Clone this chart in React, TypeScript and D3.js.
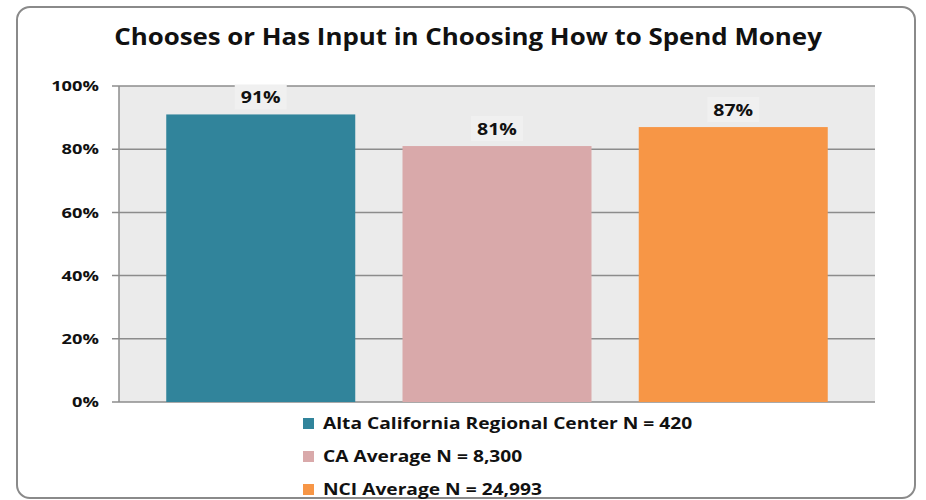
import React from "react";
import * as d3 from "d3";

// chart data
const categories = ["Alta California Regional Center", "CA Average", "NCI Average"];
const sampleSizes = ["420", "8,300", "24,993"];
const values = [91, 81, 87];
const colors = ["#31849b", "#d9a9aa", "#f79646"];
const yTicks = [0, 20, 40, 60, 80, 100];
const title = "Chooses or Has Input in Choosing How to Spend Money";

const W = 926;
const H = 500;
const plot = { left: 119, right: 875, top: 86, bottom: 402 };
const font = "'Open Sans', 'Segoe UI', sans-serif";

// the original uses a wide font, so stretch Open Sans sideways a little
const stretch = (x: number, y: number, k: number) => `translate(${x},${y}) scale(${k},1)`;

const App = () => {
  const x = d3
    .scaleBand<string>()
    .domain(categories)
    .range([plot.left, plot.right])
    .paddingInner(0.2)
    .paddingOuter(0.2);

  const y = d3.scaleLinear().domain([0, 100]).range([plot.bottom, plot.top]);

  return (
    <svg
      width={W}
      height={H}
      style={{ position: "absolute", left: 0, top: 0, background: "#fff" }}
      fontFamily={font}
    >
      {/* outer frame */}
      <rect x={17} y={7} width={898} height={491} rx={13} fill="#fff" stroke="#8a8a8a" strokeWidth={2} />

      <text
        transform={stretch(468, 45, 1.15)}
        textAnchor="middle"
        fontSize={22.5}
        fontWeight="bold"
        fill="#111"
      >
        {title}
      </text>

      {/* plot background */}
      <rect
        x={plot.left}
        y={plot.top}
        width={plot.right - plot.left}
        height={plot.bottom - plot.top}
        fill="#ebebeb"
      />

      {/* gridlines + ticks */}
      {yTicks.map((t) => (
        <g key={t}>
          <line x1={plot.left - 7} x2={plot.right} y1={y(t)} y2={y(t)} stroke="#8c8c8c" strokeWidth={1.5} />
          <text
            transform={stretch(99, y(t), 1.22)}
            dy="0.35em"
            textAnchor="end"
            fontSize={15}
            fontWeight="bold"
            fill="#111"
          >
            {t}%
          </text>
        </g>
      ))}
      <line x1={plot.left} x2={plot.left} y1={plot.top} y2={plot.bottom} stroke="#8c8c8c" strokeWidth={1.5} />

      {/* bars */}
      {categories.map((c, i) => (
        <rect
          key={c}
          x={x(c)}
          y={y(values[i])}
          width={x.bandwidth()}
          height={y(0) - y(values[i])}
          fill={colors[i]}
        />
      ))}

      {/* value labels */}
      {categories.map((c, i) => {
        const cx = (x(c) as number) + x.bandwidth() / 2;
        const ty = y(values[i]) - 11;
        return (
          <g key={c + "-lbl"}>
            <rect x={cx - 26} y={ty - 19} width={52} height={25} fill="#f0f0f0" />
            <text
              transform={stretch(cx, ty, 1.22)}
              textAnchor="middle"
              fontSize={16}
              fontWeight="bold"
              fill="#111"
            >
              {values[i]}%
            </text>
          </g>
        );
      })}

      {/* legend */}
      {categories.map((c, i) => {
        const ly = 423 + i * 33;
        return (
          <g key={c + "-leg"}>
            <rect x={303} y={ly - 5} width={11} height={11} fill={colors[i]} />
            <text
              transform={stretch(323, ly, 1.2)}
              dy="0.36em"
              fontSize={16}
              fontWeight="bold"
              fill="#111"
            >
              {c} N = {sampleSizes[i]}
            </text>
          </g>
        );
      })}
    </svg>
  );
};

export default App;
